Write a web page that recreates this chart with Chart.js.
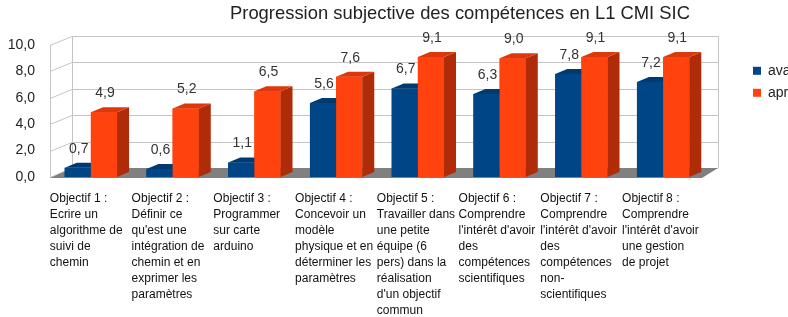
<!DOCTYPE html>
<html>
<head>
<meta charset="utf-8">
<script src="https://cdn.jsdelivr.net/npm/chart.js@4/dist/chart.umd.min.js"></script>
<style>
  html, body { margin: 0; padding: 0; background: #fff; overflow: hidden; }
  #wrap { width: 920px; height: 317px; }
</style>
</head>
<body>
<div id="wrap"><canvas id="myChart" width="920" height="317"></canvas></div>
<script>
var objectifs = [
    ['Objectif 1 :', 'Ecrire un', 'algorithme de', 'suivi de', 'chemin'],
    ['Objectif 2 :', 'Définir ce', "qu'est une", 'intégration de', 'chemin et en', 'exprimer les', 'paramètres'],
    ['Objectif 3 :', 'Programmer', 'sur carte', 'arduino'],
    ['Objectif 4 :', 'Concevoir un', 'modèle', 'physique et en', 'déterminer les', 'paramètres'],
    ['Objectif 5 :', 'Travailler dans', 'une petite', 'équipe (6', 'pers) dans la', 'réalisation', "d'un objectif", 'commun'],
    ['Objectif 6 :', 'Comprendre', "l'intérêt d'avoir", 'des', 'compétences', 'scientifiques'],
    ['Objectif 7 :', 'Comprendre', "l'intérêt d'avoir", 'des', 'compétences', 'non-', 'scientifiques'],
    ['Objectif 8 :', 'Comprendre', "l'intérêt d'avoir", 'une gestion', 'de projet']
];
var avant = [0.7, 0.6, 1.1, 5.6, 6.7, 6.3, 7.8, 7.2];
var apres = [4.9, 5.2, 6.5, 7.6, 9.1, 9.0, 9.1, 9.1];
var yTicks = [0, 2, 4, 6, 8, 10];

function virgule(v) {
    return Number(v).toFixed(1).replace('.', ',');
}

// pseudo 3D: back wall, floor, bar sides and tops
var bar3d = {
    id: 'bar3d',
    afterLayout: function(chart) {
        // title centred on the whole (wider) canvas, like the original sheet
        chart.titleBlock.left = 0;
        chart.titleBlock.right = chart.width;
        chart.titleBlock.width = chart.width;
    },
    beforeDatasetsDraw: function(chart) {
        var ctx = chart.ctx, a = chart.chartArea, y = chart.scales.y;
        var wx = 22, wy = 9, backRight = a.right + 14;
        var y0 = y.getPixelForValue(0), y10 = y.getPixelForValue(10);
        ctx.save();
        ctx.strokeStyle = '#c4c4c4';
        ctx.lineWidth = 1;
        yTicks.forEach(function(v) {
            var py = Math.round(y.getPixelForValue(v)) + 0.5;
            ctx.beginPath();
            ctx.moveTo(a.left, py);
            ctx.lineTo(a.left + wx, py - wy);
            ctx.lineTo(backRight, py - wy);
            ctx.stroke();
        });
        ctx.beginPath();
        ctx.moveTo(a.left + 0.5, y10); ctx.lineTo(a.left + 0.5, y0);
        ctx.moveTo(a.left + wx + 0.5, y10 - wy); ctx.lineTo(a.left + wx + 0.5, y0 - wy);
        ctx.moveTo(backRight + 0.5, y10 - wy); ctx.lineTo(backRight + 0.5, y0 - wy);
        ctx.stroke();
        // floor
        ctx.fillStyle = '#808080';
        ctx.beginPath();
        ctx.moveTo(a.left, y0 + 1);
        ctx.lineTo(a.left + wx, y0 - wy);
        ctx.lineTo(backRight, y0 - wy);
        ctx.lineTo(a.right - 2, y0 + 1);
        ctx.closePath();
        ctx.fill();
        ctx.restore();
    },
    afterDatasetsDraw: function(chart) {
        var ctx = chart.ctx;
        var dx = 12, dy = 5;
        ctx.save();
        // redraw series left to right so each bar's side hides behind its neighbour
        chart.data.datasets.forEach(function(ds, i) {
            chart.getDatasetMeta(i).data.forEach(function(bar) {
                bar.draw(ctx);
                var x0 = bar.x - bar.width / 2, x1 = bar.x + bar.width / 2;
                var top = bar.y, base = bar.base;
                ctx.fillStyle = ds.sideColor;
                ctx.beginPath();
                ctx.moveTo(x1, top); ctx.lineTo(x1 + dx, top - dy);
                ctx.lineTo(x1 + dx, base - dy); ctx.lineTo(x1, base);
                ctx.closePath(); ctx.fill();
                ctx.fillStyle = ds.topColor;
                ctx.beginPath();
                ctx.moveTo(x0, top); ctx.lineTo(x0 + dx, top - dy);
                ctx.lineTo(x1 + dx, top - dy); ctx.lineTo(x1, top);
                ctx.closePath(); ctx.fill();
            });
        });
        ctx.font = '14px "Liberation Sans"';
        ctx.fillStyle = '#333';
        ctx.textAlign = 'center';
        ctx.textBaseline = 'middle';
        chart.data.datasets.forEach(function(ds, i) {
            chart.getDatasetMeta(i).data.forEach(function(bar, j) {
                ctx.fillText(virgule(ds.data[j]), bar.x + 1, bar.y - 19);
            });
        });
        ctx.restore();
    }
};

var ctx = document.getElementById('myChart').getContext('2d');
var myChart = new Chart(ctx, {
    type: 'bar',
    data: {
        labels: objectifs,
        datasets: [{
            label: 'avant',
            data: avant,
            backgroundColor: '#004586',
            sideColor: '#002d5a',
            topColor: '#003a70',
            barPercentage: 1.0,
            categoryPercentage: 0.64
        }, {
            label: 'après',
            data: apres,
            backgroundColor: '#ff420e',
            sideColor: '#b02c08',
            topColor: '#dd380b',
            barPercentage: 1.0,
            categoryPercentage: 0.64
        }]
    },
    options: {
        responsive: false,
        animation: false,
        layout: { padding: { left: 8, right: 107, top: 0, bottom: 0 } },
        plugins: {
            title: {
                display: true,
                text: 'Progression subjective des compétences en L1 CMI SIC',
                color: '#222',
                font: { family: 'Liberation Sans', size: 18.4, weight: 'normal' },
                padding: { top: 3, bottom: 20 }
            },
            legend: {
                position: 'right',
                align: 'start',
                title: { display: true, text: ' ', padding: { top: 45, bottom: 0 }, font: { size: 9 } },
                labels: {
                    boxWidth: 8,
                    boxHeight: 8,
                    padding: 8,
                    color: '#222',
                    font: { family: 'Liberation Sans', size: 14 }
                }
            },
            tooltip: { enabled: false }
        },
        scales: {
            x: {
                grid: { display: false, drawTicks: false },
                border: { display: false },
                ticks: {
                    autoSkip: false,
                    maxRotation: 0,
                    minRotation: 0,
                    align: 'start',
                    labelOffset: -41,
                    padding: 14,
                    color: '#111',
                    font: { family: 'Liberation Sans', size: 12, lineHeight: 1.333 }
                },
                afterFit: function(s) { s.height = 140; }
            },
            y: {
                min: 0,
                max: 10,
                grid: { display: false, drawTicks: false },
                border: { display: false },
                ticks: {
                    stepSize: 2,
                    padding: 15,
                    color: '#222',
                    font: { family: 'Liberation Sans', size: 14 },
                    callback: function(v) { return virgule(v); }
                },
                afterFit: function(s) { s.width = 42; }
            },
            y2: {
                position: 'right',
                display: true,
                grid: { display: false, drawTicks: false },
                border: { display: false },
                ticks: { display: false },
                afterFit: function(s) { s.width = 41; }
            }
        }
    },
    plugins: [bar3d]
});
</script>
</body>
</html>
